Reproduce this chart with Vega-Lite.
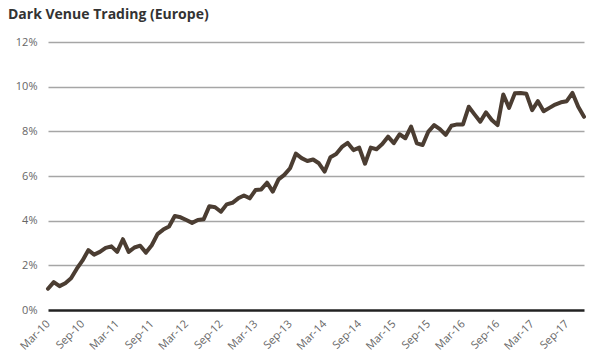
{
  "$schema": "https://vega.github.io/schema/vega-lite/v6.json",
  "width": 536,
  "height": 268,
  "autosize": {"type": "none"},
  "padding": {"left": 48, "top": 42, "right": 21, "bottom": 51},
  "background": "white",
  "title": {
    "text": "Dark Venue Trading (Europe)",
    "anchor": "start",
    "frame": "group",
    "dx": -40,
    "offset": 14,
    "fontSize": 14,
    "fontWeight": "bold",
    "font": "Open Sans",
    "color": "#333333"
  },
  "config": {
    "view": {"stroke": null},
    "font": "Open Sans"
  },
  "data": {
    "values": [
      {"m": "Mar-10", "v": 0.95}, {"m": "Apr-10", "v": 1.25}, {"m": "May-10", "v": 1.07}, {"m": "Jun-10", "v": 1.2},
      {"m": "Jul-10", "v": 1.42}, {"m": "Aug-10", "v": 1.85}, {"m": "Sep-10", "v": 2.22}, {"m": "Oct-10", "v": 2.68},
      {"m": "Nov-10", "v": 2.48}, {"m": "Dec-10", "v": 2.6}, {"m": "Jan-11", "v": 2.78}, {"m": "Feb-11", "v": 2.85},
      {"m": "Mar-11", "v": 2.6}, {"m": "Apr-11", "v": 3.17}, {"m": "May-11", "v": 2.6}, {"m": "Jun-11", "v": 2.8},
      {"m": "Jul-11", "v": 2.88}, {"m": "Aug-11", "v": 2.57}, {"m": "Sep-11", "v": 2.9}, {"m": "Oct-11", "v": 3.4},
      {"m": "Nov-11", "v": 3.6}, {"m": "Dec-11", "v": 3.74}, {"m": "Jan-12", "v": 4.21}, {"m": "Feb-12", "v": 4.15},
      {"m": "Mar-12", "v": 4.03}, {"m": "Apr-12", "v": 3.9}, {"m": "May-12", "v": 4.03}, {"m": "Jun-12", "v": 4.06},
      {"m": "Jul-12", "v": 4.65}, {"m": "Aug-12", "v": 4.6}, {"m": "Sep-12", "v": 4.4}, {"m": "Oct-12", "v": 4.73},
      {"m": "Nov-12", "v": 4.8}, {"m": "Dec-12", "v": 5.0}, {"m": "Jan-13", "v": 5.13}, {"m": "Feb-13", "v": 5.0},
      {"m": "Mar-13", "v": 5.37}, {"m": "Apr-13", "v": 5.4}, {"m": "May-13", "v": 5.7}, {"m": "Jun-13", "v": 5.3},
      {"m": "Jul-13", "v": 5.85}, {"m": "Aug-13", "v": 6.05}, {"m": "Sep-13", "v": 6.35}, {"m": "Oct-13", "v": 7.0},
      {"m": "Nov-13", "v": 6.8}, {"m": "Dec-13", "v": 6.67}, {"m": "Jan-14", "v": 6.74}, {"m": "Feb-14", "v": 6.57},
      {"m": "Mar-14", "v": 6.2}, {"m": "Apr-14", "v": 6.84}, {"m": "May-14", "v": 6.98}, {"m": "Jun-14", "v": 7.3},
      {"m": "Jul-14", "v": 7.48}, {"m": "Aug-14", "v": 7.16}, {"m": "Sep-14", "v": 7.27}, {"m": "Oct-14", "v": 6.55},
      {"m": "Nov-14", "v": 7.27}, {"m": "Dec-14", "v": 7.2}, {"m": "Jan-15", "v": 7.43}, {"m": "Feb-15", "v": 7.76},
      {"m": "Mar-15", "v": 7.47}, {"m": "Apr-15", "v": 7.87}, {"m": "May-15", "v": 7.69}, {"m": "Jun-15", "v": 8.21},
      {"m": "Jul-15", "v": 7.46}, {"m": "Aug-15", "v": 7.39}, {"m": "Sep-15", "v": 7.99}, {"m": "Oct-15", "v": 8.28},
      {"m": "Nov-15", "v": 8.1}, {"m": "Dec-15", "v": 7.84}, {"m": "Jan-16", "v": 8.25}, {"m": "Feb-16", "v": 8.31},
      {"m": "Mar-16", "v": 8.31}, {"m": "Apr-16", "v": 9.1}, {"m": "May-16", "v": 8.76}, {"m": "Jun-16", "v": 8.43},
      {"m": "Jul-16", "v": 8.85}, {"m": "Aug-16", "v": 8.51}, {"m": "Sep-16", "v": 8.28}, {"m": "Oct-16", "v": 9.65},
      {"m": "Nov-16", "v": 9.05}, {"m": "Dec-16", "v": 9.7}, {"m": "Jan-17", "v": 9.72}, {"m": "Feb-17", "v": 9.68},
      {"m": "Mar-17", "v": 8.95}, {"m": "Apr-17", "v": 9.35}, {"m": "May-17", "v": 8.9}, {"m": "Jun-17", "v": 9.05},
      {"m": "Jul-17", "v": 9.2}, {"m": "Aug-17", "v": 9.3}, {"m": "Sep-17", "v": 9.35}, {"m": "Oct-17", "v": 9.72},
      {"m": "Nov-17", "v": 9.1}, {"m": "Dec-17", "v": 8.65}
    ]
  },
  "mark": {"type": "line", "color": "#4b3d32", "strokeWidth": 4, "strokeJoin": "round", "strokeCap": "round"},
  "encoding": {
    "x": {
      "field": "m",
      "type": "ordinal",
      "sort": null,
      "scale": {"type": "point", "padding": 0},
      "axis": {
        "title": null,
        "values": ["Mar-10", "Sep-10", "Mar-11", "Sep-11", "Mar-12", "Sep-12", "Mar-13", "Sep-13", "Mar-14", "Sep-14", "Mar-15", "Sep-15", "Mar-16", "Sep-16", "Mar-17", "Sep-17"],
        "ticks": false,
        "domain": false,
        "grid": false,
        "labelAngle": -45,
        "labelAlign": "right",
        "labelBaseline": "middle",
        "labelPadding": 12,
        "labelFontSize": 11,
        "labelColor": "#666666",
        "labelFont": "Open Sans"
      }
    },
    "y": {
      "field": "v",
      "type": "quantitative",
      "scale": {"domain": [0, 12], "nice": false, "zero": true},
      "axis": {
        "title": null,
        "values": [0, 2, 4, 6, 8, 10, 12],
        "labelExpr": "datum.value + '%'",
        "ticks": false,
        "domain": false,
        "grid": true,
        "gridColor": {"condition": {"test": "datum.value === 0", "value": "#222222"}, "value": "#a6a6a6"},
        "gridWidth": {"condition": {"test": "datum.value === 0", "value": 2.5}, "value": 1.5},
        "labelPadding": 11,
        "labelFontSize": 11,
        "labelColor": "#666666",
        "labelFont": "Open Sans"
      }
    }
  }
}
